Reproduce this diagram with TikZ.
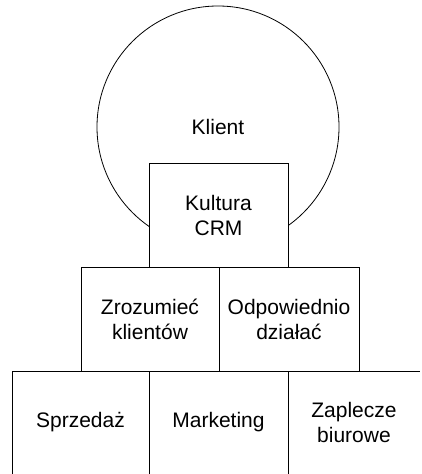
\documentclass[tikz,border=0pt]{standalone}
\usepackage{fontspec}
\setmainfont{Liberation Sans}
\begin{document}
\begin{tikzpicture}[x=1pt, y=-1pt,
    every node/.style={font=\fontsize{21}{25}\selectfont, align=center,
                       outer sep=0pt, inner sep=0pt},
    block/.style={draw, fill=white, line width=0.8pt},
    cell/.style={minimum height=103pt}]
    \useasboundingbox (0, 0) rectangle (422, 474);

    % Customer
    \node [circle, draw, line width=0.8pt, minimum size=242pt]
          (klient) at (218, 127) {Klient};

    % Culture
    \node [block, minimum width=139pt, minimum height=104pt]
          (kultura) at (218.5, 215) {Kultura\\CRM};

    % Middle layer
    \node [block, minimum width=138pt, minimum height=104pt]
          (rozum) at (150, 319) {Zrozumieć\\klientów};
    \node [block, minimum width=140pt, minimum height=104pt]
          (dzialaj) at (289, 319) {Odpowiednio\\działać};

    % Bottom layer
    \foreach \name/\x/\w/\txt in {sprzedaz/80.5/137/Sprzedaż,
                                  marketing/218.5/139/Marketing,
                                  zaplecze/354/132/{Zaplecze\\biurowe}} {
      \node [cell, minimum width=\w pt] (\name) at (\x, 422.5) {\txt};
    }
    \draw [line width=0.8pt] (sprzedaz.south west) -- (sprzedaz.north west)
          -- (zaplecze.north east);
    \foreach \name in {marketing, zaplecze} {
      \draw [line width=0.8pt] (\name.north west) -- (\name.south west);
    }
\end{tikzpicture}
\end{document}
